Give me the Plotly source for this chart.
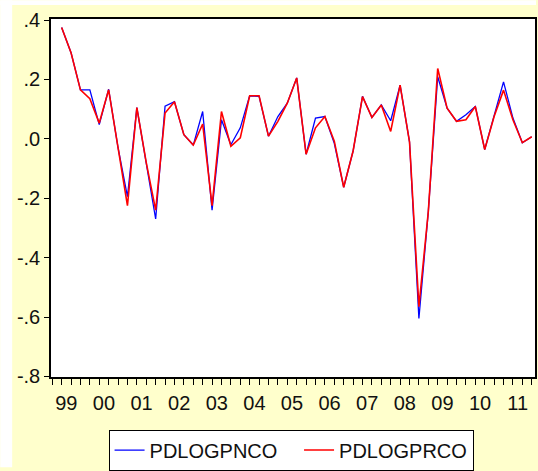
import plotly.graph_objects as go

# ---- data (quarterly, 1999Q2 .. 2011Q4) ----
start_year = 1999
start_quarter = 2
pdlogpnco = [0.375, 0.29, 0.165, 0.165, 0.048, 0.167, -0.03, -0.195, 0.105, -0.08,
             -0.27, 0.11, 0.125, 0.014, -0.021, 0.092, -0.24, 0.064, -0.02, 0.037,
             0.145, 0.143, 0.009, 0.075, 0.12, 0.205, -0.052, 0.07, 0.075, -0.015,
             -0.163, -0.041, 0.143, 0.072, 0.114, 0.061, 0.181, -0.01, -0.605, -0.245,
             0.209, 0.103, 0.059, 0.081, 0.109, -0.036, 0.075, 0.192, 0.07, -0.013, 0.007]
pdlogprco = [0.375, 0.29, 0.165, 0.135, 0.053, 0.165, -0.03, -0.225, 0.105, -0.08,
             -0.24, 0.087, 0.125, 0.014, -0.021, 0.05, -0.225, 0.092, -0.025, 0.003,
             0.145, 0.145, 0.009, 0.059, 0.12, 0.205, -0.052, 0.037, 0.075, -0.008,
             -0.163, -0.041, 0.142, 0.072, 0.114, 0.025, 0.181, -0.01, -0.565, -0.245,
             0.237, 0.103, 0.059, 0.064, 0.109, -0.036, 0.075, 0.164, 0.064, -0.013, 0.007]
year_labels = ["99", "00", "01", "02", "03", "04", "05", "06", "07", "08", "09", "10", "11"]
y_tick_values = [0.4, 0.2, 0.0, -0.2, -0.4, -0.6, -0.8]
y_tick_labels = [".4", ".2", ".0", "-.2", "-.4", "-.6", "-.8"]
series_names = ["PDLOGPNCO", "PDLOGPRCO"]

# time index for each observation
t0 = start_year + (start_quarter - 1) / 4
t = [t0 + 0.25 * i for i in range(len(pdlogpnco))]
years = [start_year + k for k in range(len(year_labels))]
label_pos = [y + 0.375 for y in years]
quarter_ticks = [start_year + 0.25 * k for k in range(len(years) * 4)]

FONT = "Liberation Sans, Arial, sans-serif"
YELLOW = "#FFFFCC"

W, H = 538, 471
L, R, T, B = 51, 1, 19, 91
pw, ph = W - L - R, H - T - B

fig = go.Figure()
fig.add_trace(go.Scatter(x=t, y=pdlogpnco, mode="lines",
                         name=series_names[0] + "\u00a0\u00a0\u00a0",
                         line=dict(color="#0000FF", width=1.3)))
fig.add_trace(go.Scatter(x=t, y=pdlogprco, mode="lines", name=series_names[1],
                         line=dict(color="#FF0000", width=1.6)))

# white strips at the top and left edges of the canvas
fig.add_shape(type="rect", xref="paper", yref="paper",
              x0=-L / pw, x1=(12 - L) / pw, y0=-B / ph, y1=(T + ph) / ph,
              fillcolor="white", line=dict(width=0), layer="below")
fig.add_shape(type="rect", xref="paper", yref="paper",
              x0=-L / pw, x1=(W - L) / pw, y0=(T + ph - 5) / ph, y1=(T + ph) / ph,
              fillcolor="white", line=dict(width=0), layer="below")

fig.update_layout(
    width=W, height=H,
    margin=dict(l=L, r=R, t=T, b=B),
    paper_bgcolor=YELLOW, plot_bgcolor="white",
    font=dict(family=FONT, size=20, color="#111111"),
    showlegend=True,
    legend=dict(orientation="h", x=0.496, xanchor="center",
                y=(ph - (433 - T)) / ph, yanchor="top",
                bgcolor="white", bordercolor="black", borderwidth=1,
                font=dict(family=FONT, size=20, color="#111111"),
                itemwidth=30),
    xaxis=dict(range=[1998.967, 2011.837], showgrid=False, zeroline=False,
               tickmode="array", tickvals=label_pos, ticktext=year_labels,
               ticks="outside", ticklen=7, tickcolor="rgba(0,0,0,0)",
               showline=True, linecolor="black", linewidth=1.5, mirror=True,
               minor=dict(tickmode="array", tickvals=quarter_ticks, ticks="outside",
                          ticklen=6, tickcolor="black", tickwidth=1, showgrid=False),
               tickfont=dict(size=20)),
    yaxis=dict(range=[-0.802, 0.4035], showgrid=False, zeroline=False,
               tickmode="array", tickvals=y_tick_values, ticktext=y_tick_labels,
               ticks="outside", ticklen=5, tickcolor="black",
               showline=True, linecolor="black", linewidth=1.5, mirror=True,
               tickfont=dict(size=20)),
)

fig.write_html("out.html", config={"displayModeBar": False},
               post_script="document.body.style.margin='0';")
